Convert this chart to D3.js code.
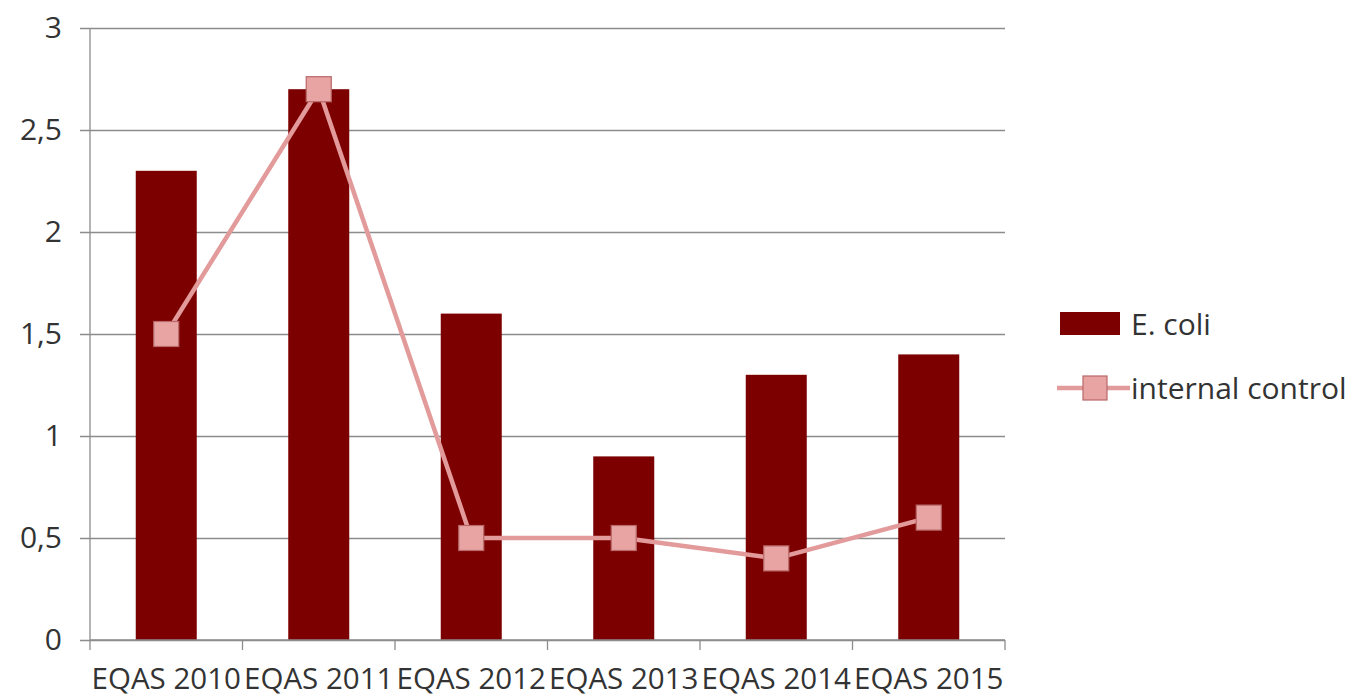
<!DOCTYPE html>
<html>
<head>
<meta charset="utf-8">
<script src="https://cdn.jsdelivr.net/npm/d3@7"></script>
<style>
  html, body { margin: 0; padding: 0; background: #fff; }
  svg text { font-family: "Open Sans", "Noto Sans", sans-serif; fill: #333; }
</style>
</head>
<body>
<svg id="chart" width="1349" height="698"></svg>
<script>
// Categories and series
const categories = ["EQAS 2010", "EQAS 2011", "EQAS 2012", "EQAS 2013", "EQAS 2014", "EQAS 2015"];
const ecoliValues = [2.3, 2.7, 1.6, 0.9, 1.3, 1.4];
const internalControlValues = [1.5, 2.7, 0.5, 0.5, 0.4, 0.6];
const yTickValues = [0, 0.5, 1, 1.5, 2, 2.5, 3];
const seriesNames = ["E. coli", "internal control"];

const barColor = "#7d0000";
const lineColor = "#e29a9a";
const markerFill = "#e8a3a3";
const markerStroke = "#b86868";
const gridColor = "#8c8c8c";
const fontSize = 30;

const svg = d3.select("#chart");
const margin = { left: 90, right: 344, top: 28, bottom: 58 };
const W = 1349, H = 698;

const x = d3.scaleBand()
  .domain(categories)
  .range([margin.left, W - margin.right])
  .paddingInner(0.6)
  .paddingOuter(0.3);

const xOuter = d3.scaleBand()
  .domain(categories)
  .range([margin.left, W - margin.right]);

const y = d3.scaleLinear().domain([0, 3]).range([H - margin.bottom, margin.top]);

const fmt = d => String(d).replace(".", ",");

// Horizontal gridlines with small outward ticks
const yAxis = svg.append("g")
  .attr("transform", `translate(${margin.left},0)`)
  .call(d3.axisLeft(y).tickValues(yTickValues).tickFormat(fmt)
    .tickSize(-(W - margin.right - margin.left)).tickPadding(28));
yAxis.select(".domain").remove();
yAxis.selectAll(".tick line").attr("stroke", gridColor).attr("stroke-width", 1.3).attr("x1", -10);
yAxis.selectAll(".tick text").attr("font-size", fontSize).attr("fill", "#333")
  .style("font-family", "'Open Sans', sans-serif");

// Vertical axis line
svg.append("line")
  .attr("x1", margin.left).attr("x2", margin.left)
  .attr("y1", y(3)).attr("y2", y(0))
  .attr("stroke", gridColor).attr("stroke-width", 1.3);

// Bars
svg.append("g").selectAll("rect")
  .data(categories)
  .join("rect")
  .attr("x", d => x(d))
  .attr("width", x.bandwidth())
  .attr("y", (d, i) => y(ecoliValues[i]))
  .attr("height", (d, i) => y(0) - y(ecoliValues[i]))
  .attr("fill", barColor);

// Category axis with boundary ticks
const xAxisG = svg.append("g").attr("transform", `translate(0,${y(0)})`);
xAxisG.append("line")
  .attr("x1", margin.left).attr("x2", W - margin.right)
  .attr("stroke", gridColor).attr("stroke-width", 1.3);
const boundaries = categories.map(c => xOuter(c)).concat([xOuter(categories[categories.length - 1]) + xOuter.bandwidth()]);
xAxisG.selectAll(".bt").data(boundaries).join("line")
  .attr("x1", d => d).attr("x2", d => d)
  .attr("y1", 0).attr("y2", 10)
  .attr("stroke", gridColor).attr("stroke-width", 1.3);
xAxisG.selectAll("text").data(categories).join("text")
  .attr("x", d => xOuter(d) + xOuter.bandwidth() / 2)
  .attr("y", 49)
  .attr("text-anchor", "middle")
  .attr("font-size", 29.5)
  .text(d => d);

// Line series
const cx = (d, i) => x(categories[i]) + x.bandwidth() / 2;
const line = d3.line()
  .x((d, i) => cx(d, i))
  .y(d => y(d));
svg.append("path")
  .datum(internalControlValues)
  .attr("d", line)
  .attr("fill", "none")
  .attr("stroke", lineColor)
  .attr("stroke-width", 4.5)
  .attr("stroke-linejoin", "round");

const mSize = 25;
svg.append("g").selectAll("rect")
  .data(internalControlValues)
  .join("rect")
  .attr("x", (d, i) => cx(d, i) - mSize / 2)
  .attr("y", d => y(d) - mSize / 2)
  .attr("width", mSize).attr("height", mSize)
  .attr("fill", markerFill)
  .attr("stroke", markerStroke)
  .attr("stroke-width", 1.2);

// Legend
const legend = svg.append("g");
legend.append("rect")
  .attr("x", 1060).attr("y", 312).attr("width", 60).attr("height", 23)
  .attr("fill", barColor);
legend.append("text")
  .attr("x", 1131).attr("y", 335).attr("font-size", fontSize)
  .text(seriesNames[0]);
legend.append("line")
  .attr("x1", 1057).attr("x2", 1130).attr("y1", 388).attr("y2", 388)
  .attr("stroke", lineColor).attr("stroke-width", 4.5);
legend.append("rect")
  .attr("x", 1083).attr("y", 376).attr("width", 24).attr("height", 24)
  .attr("fill", markerFill).attr("stroke", markerStroke).attr("stroke-width", 1.2);
legend.append("text")
  .attr("x", 1131).attr("y", 399).attr("font-size", fontSize)
  .text(seriesNames[1]);
</script>
</body>
</html>
